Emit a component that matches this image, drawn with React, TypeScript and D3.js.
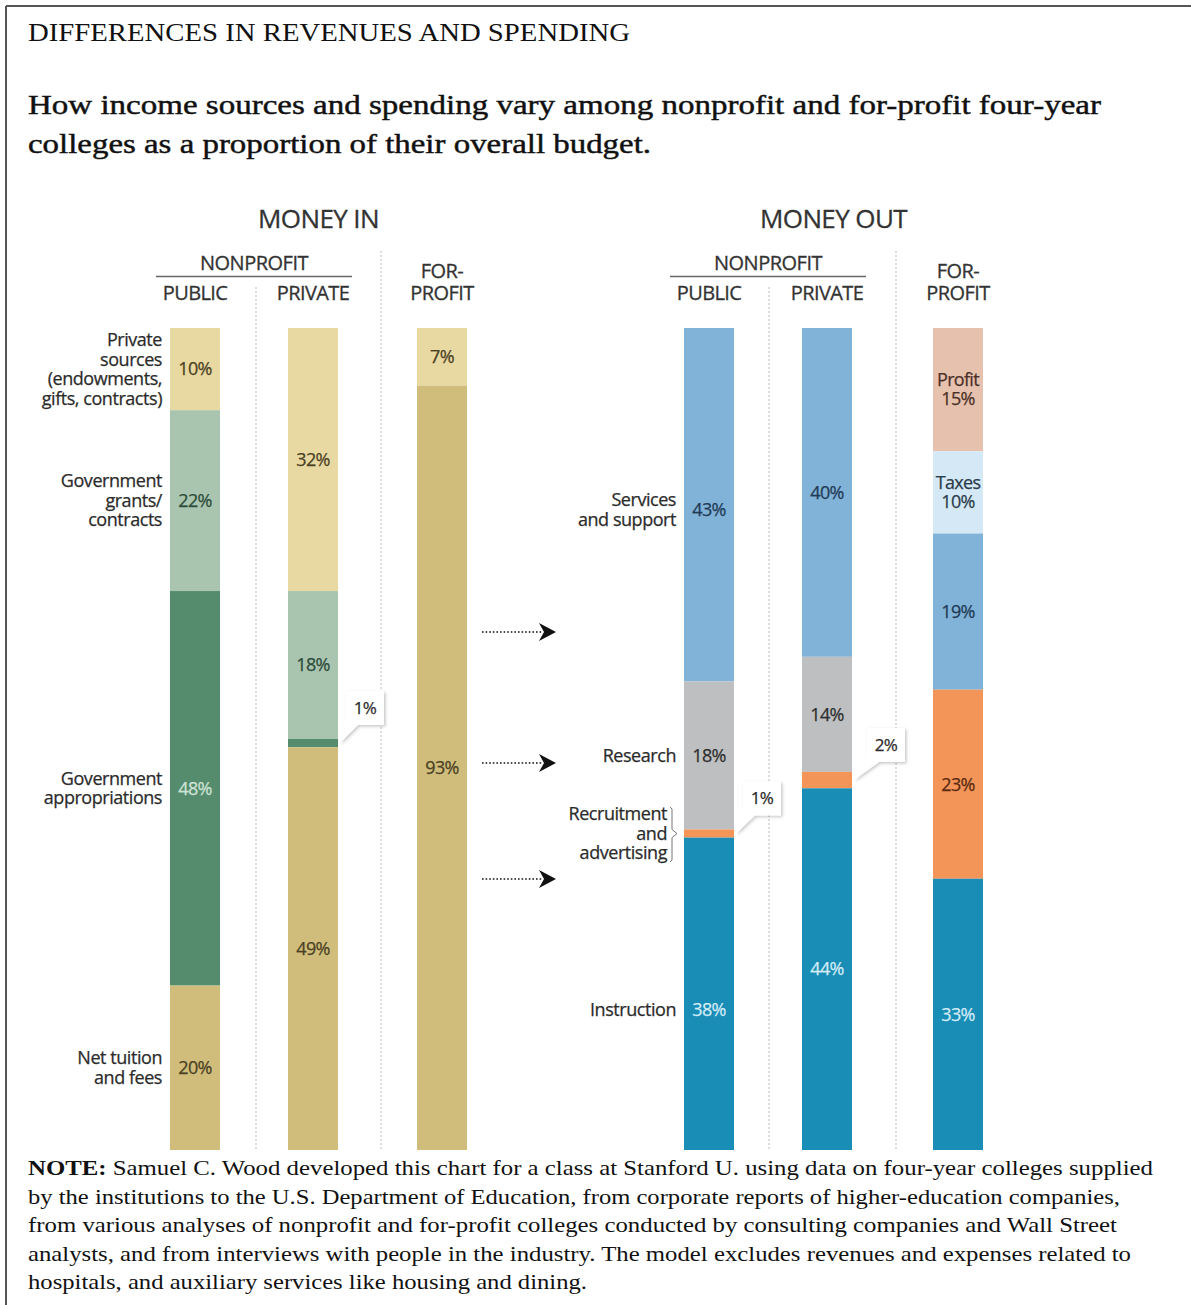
import React from "react";
import * as d3 from "d3";

// ---- Data ----------------------------------------------------------------
const columns = ["Public", "Private", "For-profit"];

const inCategories = [
  "Private sources",
  "Government grants/contracts",
  "Government appropriations",
  "Net tuition and fees",
];
const inLabelLines = [
  ["Private", "sources", "(endowments,", "gifts, contracts)"],
  ["Government", "grants/", "contracts"],
  ["Government", "appropriations"],
  ["Net tuition", "and fees"],
];
const inPublic = [10, 22, 48, 20];
const inPrivate = [32, 18, 1, 49];
const inForProfit = [7, 0, 0, 93];

const outCategories = [
  "Profit",
  "Taxes",
  "Services and support",
  "Research",
  "Recruitment and advertising",
  "Instruction",
];
const outLabelLines = [
  [],
  [],
  ["Services", "and support"],
  ["Research"],
  ["Recruitment", "and", "advertising"],
  ["Instruction"],
];
const outPublic = [0, 0, 43, 18, 1, 38];
const outPrivate = [0, 0, 40, 14, 2, 44];
const outForProfit = [15, 10, 19, 0, 23, 33];

const inFills = ["#E8D8A1", "#A9C4AF", "#558C6E", "#D0BD7B"];
const inInk = ["#4a4124", "#2c4c3b", "#cfe3d6", "#4a4124"];
const outFills = ["#E6C1AD", "#D4E9F5", "#81B2D8", "#BEBFC1", "#F39459", "#1A8DB7"];
const outInk = ["#4a3028", "#2b3b4b", "#1f3a55", "#2e2e2e", "#5a2a10", "#d3ecf6"];

const noteLines = [
  "Samuel C. Wood developed this chart for a class at Stanford U. using data on four-year colleges supplied",
  "by the institutions to the U.S. Department of Education, from corporate reports of higher-education companies,",
  "from various analyses of nonprofit and for-profit colleges conducted by consulting companies and Wall Street",
  "analysts, and from interviews with people in the industry. The model excludes revenues and expenses related to",
  "hospitals, and auxiliary services like housing and dining.",
];
const noteWidths = [1125, 1092, 1089, 1103, 559];

// ---- Layout --------------------------------------------------------------
const W = 1191;
const H = 1305;
const SANS = "'Open Sans', 'DejaVu Sans', sans-serif";
const SERIF = "'Liberation Serif', 'Times New Roman', serif";
const INK = "#2b2b2b";
const BAR_W = 50;
const y = d3.scaleLinear().domain([0, 100]).range([328, 1150]);

type Seg = { i: number; v: number; y0: number; y1: number };
function stackSegments(values: number[]): Seg[] {
  const ends = Array.from(d3.cumsum(values));
  return values
    .map((v, i) => ({ i, v, y0: ends[i] - v, y1: ends[i] }))
    .filter((d) => d.v > 0);
}

const pct = (v: number) => `${v}%`;

function Callout({ barRight, gap, yMid, text }: { barRight: number; gap: number; yMid: number; text: string }) {
  const x0 = barRight + gap;
  const x1 = x0 + 38;
  const yc = yMid - 35;
  const y0 = yc - 17;
  const y1 = yc + 17;
  const d = `M${x0},${y0} L${x1},${y0} L${x1},${y1} L${x0 + 12},${y1} L${barRight + 2},${yMid} L${x0},${y1 - 8} Z`;
  return (
    <g>
      <path d={d} fill="#fff" filter="url(#callShadow)" />
      <text x={(x0 + x1) / 2} y={yc} dy="0.35em" textAnchor="middle" fontFamily={SANS} fontSize={17} fill={INK} stroke={INK} strokeWidth={0.25} letterSpacing={-0.6}>
        {text}
      </text>
    </g>
  );
}

type Panel = {
  title: string;
  barX: number[];
  series: number[][];
  fills: string[];
  ink: string[];
  cats: string[];
  labelLines: string[][];
  labelRight: number;
  calloutGap: number[];
  sepX: [number, number];
};

function PanelView({ p, kind }: { p: Panel; kind: "in" | "out" }) {
  const centers = p.barX.map((x) => x + BAR_W / 2);
  const npMid = (centers[0] + centers[1]) / 2;
  const titleMid = (centers[0] + centers[2]) / 2;
  const segs = p.series.map(stackSegments);
  const nudge = (col: number, cat: string) =>
    kind === "out" && col === 0 ? (cat === "Instruction" ? 16 : cat === "Services and support" ? 5 : 0) : 0;
  const head = { fontFamily: SANS, fill: "#333", stroke: "#333", strokeWidth: 0.3 };

  return (
    <g>
      <text x={titleMid} y={228} textAnchor="middle" fontSize={26} letterSpacing={-0.6} {...head}>
        {p.title}
      </text>
      <text x={npMid} y={270} textAnchor="middle" fontSize={20} letterSpacing={-0.5} {...head}>
        NONPROFIT
      </text>
      <line x1={npMid - 98} x2={npMid + 98} y1={276.5} y2={276.5} stroke="#666" strokeWidth={1.5} />
      {columns.map((c, k) =>
        k < 2 ? (
          <text key={c} x={centers[k]} y={300} textAnchor="middle" fontSize={20} letterSpacing={-0.6} {...head}>
            {c.toUpperCase()}
          </text>
        ) : (
          <text key={c} x={centers[k]} textAnchor="middle" fontSize={20} letterSpacing={-0.6} {...head}>
            <tspan x={centers[k]} y={278}>FOR-</tspan>
            <tspan x={centers[k]} y={300}>PROFIT</tspan>
          </text>
        )
      )}
      {/* dotted column separators */}
      <line x1={p.sepX[0]} x2={p.sepX[0]} y1={287} y2={1150} stroke="#bbb" strokeWidth={1} strokeDasharray="2,2" />
      <line x1={p.sepX[1]} x2={p.sepX[1]} y1={251} y2={1150} stroke="#bbb" strokeWidth={1} strokeDasharray="2,2" />

      {segs.map((col, k) =>
        col.map((s) => (
          <rect key={`${k}-${s.i}`} x={p.barX[k]} y={y(s.y0)} width={BAR_W} height={y(s.y1) - y(s.y0)} fill={p.fills[s.i]} />
        ))
      )}

      {segs.map((col, k) =>
        col.map((s) => {
          const mid = (y(s.y0) + y(s.y1)) / 2 + nudge(k, p.cats[s.i]);
          if (s.v < 5) {
            return (
              <Callout key={`c${k}-${s.i}`} barRight={p.barX[k] + BAR_W} gap={p.calloutGap[k]} yMid={mid} text={pct(s.v)} />
            );
          }
          const ink = p.ink[s.i];
          const common = { textAnchor: "middle" as const, fontFamily: SANS, fontSize: 18, fill: ink, stroke: ink, strokeWidth: 0.25, letterSpacing: -0.7 };
          const named = kind === "out" && k === 2 && (p.cats[s.i] === "Profit" || p.cats[s.i] === "Taxes");
          if (named) {
            return (
              <text key={`v${k}-${s.i}`} {...common}>
                <tspan x={centers[k]} y={mid - 9.5} dy="0.35em">{p.cats[s.i]}</tspan>
                <tspan x={centers[k]} y={mid + 9.5} dy="0.35em">{pct(s.v)}</tspan>
              </text>
            );
          }
          return (
            <text key={`v${k}-${s.i}`} x={centers[k]} y={mid} dy="0.35em" {...common}>
              {pct(s.v)}
            </text>
          );
        })
      )}

      {/* category labels beside the first column */}
      {segs[0].map((s) => {
        const lines = p.labelLines[s.i];
        if (!lines.length) return null;
        const mid = (y(s.y0) + y(s.y1)) / 2 + nudge(0, p.cats[s.i]);
        const small = s.v < 5;
        const right = small ? p.labelRight - 9 : p.labelRight;
        const lh = 19.5;
        const top = mid - ((lines.length - 1) * lh) / 2;
        return (
          <g key={`l${s.i}`}>
            <text textAnchor="end" fontFamily={SANS} fontSize={18} fill={INK} stroke={INK} strokeWidth={0.25} letterSpacing={-0.45}>
              {lines.map((t, j) => (
                <tspan key={j} x={right} y={top + j * lh} dy="0.35em">
                  {t}
                </tspan>
              ))}
            </text>
            {small && (
              <path
                d={`M${right + 3},${top - 7} L${right + 5},${top - 5} L${right + 5},${mid - 4} L${right + 10},${mid} L${right + 5},${mid + 4} L${right + 5},${top + (lines.length - 1) * lh + 7} L${right + 3},${top + (lines.length - 1) * lh + 9}`}
                fill="none"
                stroke="#777"
                strokeWidth={1}
              />
            )}
          </g>
        );
      })}
    </g>
  );
}

const moneyIn: Panel = {
  title: "MONEY IN",
  barX: [170, 288, 417],
  series: [inPublic, inPrivate, inForProfit],
  fills: inFills,
  ink: inInk,
  cats: inCategories,
  labelLines: inLabelLines,
  labelRight: 162,
  calloutGap: [8, 8, 8],
  sepX: [256, 381],
};

const moneyOut: Panel = {
  title: "MONEY OUT",
  barX: [684, 802, 933],
  series: [outPublic, outPrivate, outForProfit],
  fills: outFills,
  ink: outInk,
  cats: outCategories,
  labelLines: outLabelLines,
  labelRight: 676,
  calloutGap: [9, 15, 9],
  sepX: [769, 896],
};

const arrowRows = [632, 763, 879];

function Arrow({ yy }: { yy: number }) {
  const x0 = 482;
  const tip = 556;
  return (
    <g>
      <line x1={x0} x2={tip - 14} y1={yy} y2={yy} stroke="#111" strokeWidth={1.6} strokeDasharray="1.6,2" />
      <path d={`M${tip - 17},${yy - 9} L${tip},${yy} L${tip - 17},${yy + 9} L${tip - 12},${yy} Z`} fill="#111" />
    </g>
  );
}

export default function App() {
  return (
    <div style={{ position: "absolute", left: 0, top: 0, width: W, height: H, background: "#fff" }}>
      <svg width={W} height={H} viewBox={`0 0 ${W} ${H}`} style={{ display: "block" }}>
        <defs>
          <filter id="callShadow" x="-30%" y="-30%" width="160%" height="160%">
            <feDropShadow dx="1.5" dy="1.5" stdDeviation="1.5" floodColor="#000" floodOpacity="0.22" />
          </filter>
        </defs>
        <rect width={W} height={H} fill="#fff" />
        {/* frame */}
        <line x1={6} x2={W} y1={6} y2={6} stroke="#555" strokeWidth={2} />
        <line x1={6} x2={6} y1={6} y2={H} stroke="#555" strokeWidth={2} />

        <text x={28} y={41} fontFamily={SERIF} fontSize={25} fill="#111" textLength={602} lengthAdjust="spacingAndGlyphs">
          DIFFERENCES IN REVENUES AND SPENDING
        </text>
        <text x={28} y={114} fontFamily={SERIF} fontSize={28} fill="#111" stroke="#111" strokeWidth={0.45} textLength={1073} lengthAdjust="spacingAndGlyphs">
          How income sources and spending vary among nonprofit and for-profit four-year
        </text>
        <text x={28} y={153} fontFamily={SERIF} fontSize={28} fill="#111" stroke="#111" strokeWidth={0.45} textLength={623} lengthAdjust="spacingAndGlyphs">
          colleges as a proportion of their overall budget.
        </text>

        <PanelView p={moneyIn} kind="in" />
        <PanelView p={moneyOut} kind="out" />
        {arrowRows.map((r) => (
          <Arrow key={r} yy={r} />
        ))}

        {noteLines.map((t, i) =>
          i === 0 ? (
            <text key={i} x={28} y={1175} fontFamily={SERIF} fontSize={22} fill="#111" textLength={noteWidths[i]} lengthAdjust="spacingAndGlyphs">
              <tspan fontWeight="bold">NOTE: </tspan>
              {t}
            </text>
          ) : (
            <text key={i} x={28} y={1175 + i * 28.5} fontFamily={SERIF} fontSize={22} fill="#111" textLength={noteWidths[i]} lengthAdjust="spacingAndGlyphs">
              {t}
            </text>
          )
        )}
      </svg>
    </div>
  );
}
